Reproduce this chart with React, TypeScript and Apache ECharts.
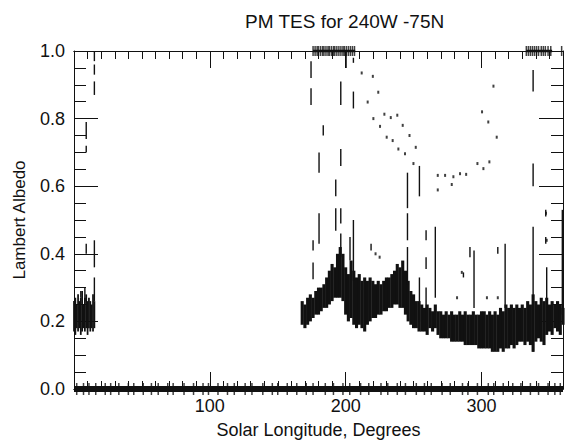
import React, { useEffect, useRef } from "react";
import * as echarts from "echarts";

// ---- data ----
const X_MAJOR_LABELS = [100, 200, 300];
const Y_TICKS = [0.0, 0.2, 0.4, 0.6, 0.8, 1.0];

// dense band near Ls 0-15: [Ls, low, high]
const leftBand: number[][] = [
  [0, 0.17, 0.26], [1, 0.16, 0.27], [2, 0.18, 0.25], [3, 0.17, 0.28], [4, 0.18, 0.26],
  [5, 0.16, 0.27], [6, 0.17, 0.29], [7, 0.18, 0.25], [8, 0.17, 0.27], [9, 0.18, 0.28],
  [10, 0.16, 0.26], [11, 0.18, 0.27], [12, 0.17, 0.26], [13, 0.18, 0.25], [14, 0.17, 0.28],
  [15, 0.18, 0.26],
];

// dense band Ls 168-360: [Ls, low, high]
const mainBand: number[][] = [
  [168, 0.19, 0.26], [170, 0.18, 0.25], [172, 0.19, 0.27], [174, 0.20, 0.28], [176, 0.21, 0.27],
  [178, 0.22, 0.29], [180, 0.22, 0.30], [182, 0.23, 0.30], [184, 0.24, 0.31], [186, 0.24, 0.33],
  [188, 0.25, 0.35], [190, 0.26, 0.37], [192, 0.27, 0.36], [194, 0.27, 0.40], [196, 0.27, 0.42],
  [198, 0.26, 0.40], [200, 0.22, 0.36], [202, 0.20, 0.34], [204, 0.21, 0.38], [206, 0.19, 0.35],
  [208, 0.18, 0.33], [210, 0.19, 0.34], [212, 0.18, 0.32], [214, 0.17, 0.33], [216, 0.19, 0.32],
  [218, 0.20, 0.33], [220, 0.21, 0.32], [222, 0.21, 0.31], [224, 0.22, 0.32], [226, 0.22, 0.31],
  [228, 0.23, 0.32], [230, 0.23, 0.33], [232, 0.24, 0.33], [234, 0.24, 0.34], [236, 0.25, 0.35],
  [238, 0.25, 0.37], [240, 0.24, 0.36], [242, 0.24, 0.38], [244, 0.22, 0.35], [246, 0.20, 0.32],
  [248, 0.19, 0.29], [250, 0.18, 0.28], [252, 0.18, 0.26], [254, 0.17, 0.26], [256, 0.17, 0.25],
  [258, 0.17, 0.24], [260, 0.16, 0.25], [262, 0.18, 0.24], [264, 0.17, 0.23], [266, 0.18, 0.25],
  [268, 0.16, 0.23], [270, 0.15, 0.23], [272, 0.15, 0.22], [274, 0.15, 0.23], [276, 0.15, 0.22],
  [278, 0.14, 0.23], [280, 0.14, 0.22], [282, 0.14, 0.22], [284, 0.14, 0.23], [286, 0.14, 0.22],
  [288, 0.13, 0.23], [290, 0.13, 0.22], [292, 0.13, 0.22], [294, 0.13, 0.23], [296, 0.13, 0.22],
  [298, 0.12, 0.22], [300, 0.12, 0.23], [302, 0.12, 0.23], [304, 0.12, 0.22], [306, 0.12, 0.23],
  [308, 0.11, 0.22], [310, 0.11, 0.23], [312, 0.11, 0.22], [314, 0.12, 0.24], [316, 0.11, 0.23],
  [318, 0.12, 0.25], [320, 0.12, 0.24], [322, 0.13, 0.25], [324, 0.12, 0.24], [326, 0.13, 0.25],
  [328, 0.14, 0.24], [330, 0.14, 0.25], [332, 0.13, 0.24], [334, 0.14, 0.26], [336, 0.13, 0.25],
  [338, 0.11, 0.28], [340, 0.14, 0.26], [342, 0.15, 0.25], [344, 0.14, 0.27], [346, 0.13, 0.26],
  [348, 0.16, 0.27], [350, 0.17, 0.25], [352, 0.16, 0.26], [354, 0.18, 0.25], [356, 0.17, 0.26],
  [358, 0.16, 0.25], [360, 0.19, 0.24],
];

// thin vertical streaks: [Ls, low, high]
const streaks: number[][] = [
  [15, 0.97, 1.0], [15, 0.93, 0.96], [15, 0.87, 0.91], [15, 0.36, 0.44], [15, 0.26, 0.33],
  [9, 0.74, 0.79], [9, 0.70, 0.72], [9, 0.40, 0.43], [8, 0.26, 0.30], [5, 0.27, 0.29],
  [174.5, 0.92, 0.97], [174.5, 0.84, 0.89], [176, 0.41, 0.44], [176, 0.325, 0.374],
  [180.4, 0.43, 0.52], [180.4, 0.64, 0.70], [183.5, 0.75, 0.78],
  [192.7, 0.57, 0.62], [192.7, 0.468, 0.535],
  [196.4, 0.84, 0.91], [196.4, 0.66, 0.71], [196.4, 0.49, 0.535], [196.4, 0.39, 0.46],
  [200.3, 0.95, 1.0], [203.2, 0.38, 0.45],
  [205.7, 0.965, 0.98], [205.7, 0.83, 0.88], [205.7, 0.32, 0.50],
  [218.7, 0.41, 0.43],
  [245.5, 0.535, 0.64], [245.5, 0.44, 0.52], [245.5, 0.31, 0.42],
  [254.3, 0.57, 0.66], [254.3, 0.20, 0.33],
  [259.2, 0.44, 0.47], [259.2, 0.355, 0.39], [259.2, 0.234, 0.30],
  [266, 0.27, 0.48],
  [286.7, 0.33, 0.345], [291.5, 0.39, 0.42], [294.5, 0.24, 0.41],
  [312, 0.40, 0.42], [317.4, 0.24, 0.43],
  [338, 0.88, 0.944], [338, 0.60, 0.667], [338, 0.11, 0.48],
  [347.3, 0.51, 0.53], [347.3, 0.43, 0.45], [348, 0.24, 0.36],
  [359.5, 0.22, 0.53],
];

// isolated retrievals: [Ls, albedo]
const dots: number[][] = [
  [211.8, 0.935], [220, 0.925], [224, 0.878], [216.2, 0.849], [220.4, 0.80], [225.3, 0.777],
  [228.5, 0.813], [233.2, 0.803], [238, 0.81], [242, 0.78], [230.2, 0.745], [234.6, 0.735],
  [247, 0.75], [238.8, 0.71], [243.7, 0.696], [251.6, 0.715], [249.9, 0.667],
  [267.8, 0.589], [267.8, 0.632], [273.2, 0.632], [278.1, 0.605], [279.3, 0.628],
  [284.2, 0.637], [288.7, 0.635], [297, 0.667], [301.4, 0.652], [305.8, 0.672],
  [300.4, 0.82], [305, 0.79], [308.8, 0.896], [311.2, 0.745],
  [285.5, 0.345], [282, 0.27], [304, 0.27], [312, 0.27], [222, 0.40], [225, 0.39],
  [348, 0.44], [347.5, 0.52],
];

// saturated retrievals at albedo 1.0
const topLs: number[] = [
  176, 177.5, 179, 180, 181.5, 183, 184, 185.5, 187, 188, 189.5, 191, 192, 193.5, 195,
  196.5, 198, 199, 200.5, 202, 203.5, 205, 206.5,
  333, 334.5, 336, 337.5, 339, 340.5, 342, 344, 345.5, 347, 349, 351, 359,
];
const topRuns: number[][] = [[176, 207], [333, 352]];

// zero-albedo retrievals along the whole year (spikes)
const zeroLs: number[] = [
  2, 7, 11, 16, 23, 27, 33, 40, 44, 51, 57, 62, 69, 73, 81, 88, 95, 99, 106, 113, 118, 126,
  131, 139, 146, 150, 157, 164, 171, 176, 185, 191, 198, 203, 211, 217, 226, 231, 238, 244,
  252, 258, 263, 271, 277, 286, 290, 297, 305, 309, 316, 323, 329, 336, 342, 349, 354, 358,
];

const FONT = "'Liberation Sans', Arial, Helvetica, sans-serif";
const INK = "#111";

function rangeSeries(data: number[][], unitWidth: number, minPx: number) {
  return {
    type: "custom",
    data,
    encode: { x: 0, y: [1, 2] },
    clip: false,
    renderItem: (_p: any, api: any) => {
      const x = api.value(0);
      const lo = api.value(1);
      const hi = api.value(2);
      const a = api.coord([x, hi]);
      const b = api.coord([x, lo]);
      const w = Math.max(minPx, unitWidth > 0 ? api.size([unitWidth, 0])[0] + 0.4 : minPx);
      return {
        type: "rect",
        shape: { x: a[0] - w / 2, y: a[1], width: w, height: Math.max(1, b[1] - a[1]) },
        style: { fill: INK },
      };
    },
  };
}

export default function App() {
  const ref = useRef<HTMLDivElement>(null);
  useEffect(() => {
    document.body.style.margin = "0";
    const chart = echarts.init(ref.current!, undefined, { renderer: "svg" });
    const xBase = {
      type: "value",
      min: 0,
      max: 360,
      splitLine: { show: false },
      axisLine: { show: true, onZero: false, lineStyle: { color: INK, width: 1 } },
    };
    const yBase = {
      type: "value",
      min: 0,
      max: 1,
      interval: 0.2,
      splitLine: { show: false },
      axisLine: { show: true, onZero: false, lineStyle: { color: INK, width: 1 } },
      axisTick: { show: true, inside: true, length: 24, lineStyle: { color: INK } },
      minorTick: { show: true, splitNumber: 4, length: 12, lineStyle: { color: INK } },
    };
    const topLine: any[] = [];
    topRuns.forEach((r, i) => {
      if (i > 0) topLine.push(null);
      topLine.push([r[0], 1], [r[1], 1]);
    });
    chart.setOption({
      animation: false,
      backgroundColor: "#fff",
      title: {
        text: "PM TES for 240W -75N",
        left: 240,
        top: 7,
        textStyle: { fontFamily: FONT, fontSize: 19, fontWeight: "normal", color: INK },
      },
      grid: { left: 74, right: 4, top: 51, bottom: 51, containLabel: false },
      xAxis: [
        {
          ...xBase,
          position: "bottom",
          interval: 100,
          axisTick: { show: true, inside: true, length: 17, lineStyle: { color: INK } },
          axisLabel: {
            show: true,
            margin: 8,
            fontFamily: FONT,
            fontSize: 18,
            color: INK,
            formatter: (v: number) => (X_MAJOR_LABELS.includes(v) ? String(v) : ""),
          },
          name: "Solar Longitude, Degrees",
          nameLocation: "middle",
          nameGap: 32,
          nameTextStyle: { fontFamily: FONT, fontSize: 18, color: INK },
        },
        {
          ...xBase,
          position: "bottom",
          interval: 10,
          axisTick: { show: true, inside: true, length: 8, lineStyle: { color: INK } },
          axisLabel: { show: false },
        },
        {
          ...xBase,
          position: "top",
          interval: 100,
          axisTick: { show: true, inside: true, length: 17, lineStyle: { color: INK } },
          axisLabel: { show: false },
        },
        {
          ...xBase,
          position: "top",
          interval: 10,
          axisTick: { show: true, inside: true, length: 8, lineStyle: { color: INK } },
          axisLabel: { show: false },
        },
      ],
      yAxis: [
        {
          ...yBase,
          position: "left",
          axisLabel: {
            show: true,
            margin: 9,
            fontFamily: FONT,
            fontSize: 18,
            color: INK,
            formatter: (v: number) => {
              const t = Y_TICKS.find((k) => Math.abs(k - v) < 1e-6);
              return t === undefined ? "" : t.toFixed(1);
            },
          },
          name: "Lambert Albedo",
          nameLocation: "middle",
          nameGap: 46,
          nameTextStyle: { fontFamily: FONT, fontSize: 17, color: INK },
        },
        { ...yBase, position: "right", axisLabel: { show: false } },
      ],
      series: [
        rangeSeries(leftBand, 1, 1.5),
        rangeSeries(mainBand, 2, 2),
        rangeSeries(streaks, 0, 1.4),
        {
          type: "scatter",
          data: dots,
          symbol: "rect",
          symbolSize: [2, 3],
          itemStyle: { color: INK },
          clip: false,
        },
        {
          type: "line",
          data: [[0, 0], [360, 0]],
          showSymbol: false,
          lineStyle: { color: INK, width: 6 },
          clip: false,
          z: 3,
        },
        {
          type: "scatter",
          data: zeroLs.map((x) => [x, 0]),
          symbol: "rect",
          symbolSize: [1.5, 12],
          itemStyle: { color: INK },
          clip: false,
        },
        {
          type: "line",
          data: topLine,
          connectNulls: false,
          showSymbol: false,
          lineStyle: { color: INK, width: 2.5 },
          clip: false,
        },
        {
          type: "scatter",
          data: topLs.map((x) => [x, 1]),
          symbol: "rect",
          symbolSize: [1.5, 10],
          itemStyle: { color: INK },
          clip: false,
        },
      ],
    });
    return () => chart.dispose();
  }, []);
  return <div ref={ref} style={{ width: 567, height: 444 }} />;
}
